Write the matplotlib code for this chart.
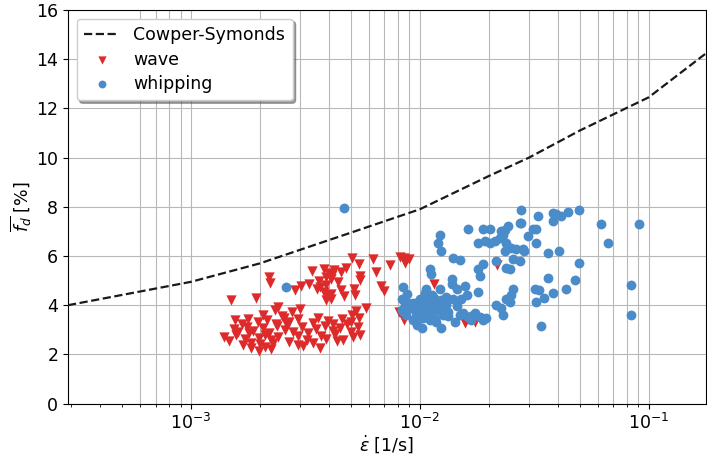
import numpy as np
import matplotlib
matplotlib.use("Agg")
import matplotlib.pyplot as plt

# Cowper-Symonds reference curve
cs_rate = [2.9e-4, 1e-3, 2e-3, 5e-3, 1e-2, 2e-2, 3e-2, 5e-2, 1e-1, 2e-1]
cs_fd = [4.0, 4.95, 5.7, 6.95, 7.9, 9.25, 10.0, 11.1, 12.45, 14.6]

# wave (red triangles)
wave_rate = [
    1.49e-3, 1.93e-3, 2.19e-3, 2.21e-3, 2.41e-3,
    1.39e-3, 1.47e-3, 1.58e-3, 1.72e-3, 1.83e-3, 1.99e-3, 2.10e-3, 2.24e-3, 2.40e-3, 2.67e-3,
    2.93e-3, 3.20e-3, 3.40e-3, 3.70e-3, 3.90e-3, 4.25e-3, 4.62e-3, 5.10e-3, 5.45e-3,
    1.54e-3, 1.61e-3, 1.75e-3, 1.86e-3, 2.07e-3, 2.19e-3, 2.37e-3, 2.58e-3, 2.80e-3,
    3.04e-3, 3.24e-3, 3.53e-3, 3.84e-3, 4.17e-3, 4.47e-3, 4.99e-3, 5.36e-3,
    1.55e-3, 1.67e-3, 1.77e-3, 1.97e-3, 2.14e-3, 2.35e-3, 2.55e-3, 2.68e-3,
    2.94e-3, 3.40e-3, 3.60e-3, 3.96e-3, 4.19e-3, 4.56e-3, 5.02e-3, 5.44e-3,
    2.06e-3, 2.32e-3, 2.49e-3, 2.75e-3, 2.99e-3, 5.03e-3, 5.28e-3, 5.82e-3,
    1.69e-3, 1.83e-3, 2.00e-3, 2.10e-3, 2.24e-3, 2.93e-3, 3.65e-3,
    1.98e-3,
    3.37e-3, 3.80e-3, 4.00e-3, 4.22e-3, 4.53e-3, 4.74e-3,
    5.06e-3, 6.24e-3, 8.2e-3, 8.5e-3, 8.95e-3,
    5.40e-3, 7.4e-3, 8.6e-3,
    6.4e-3,
    5.50e-3, 3.87e-3, 4.14e-3,
    3.62e-3, 4.07e-3, 4.38e-3, 5.5e-3,
    3.01e-3, 3.27e-3, 3.66e-3, 3.87e-3, 6.75e-3,
    2.85e-3, 3.55e-3, 3.80e-3, 4.53e-3, 5.15e-3, 7.0e-3,
    3.87e-3, 4.07e-3, 4.66e-3, 5.2e-3,
    3.87e-3, 4.07e-3,
    8.1e-3, 8.5e-3, 1.15e-2, 1.58e-2, 1.75e-2, 2.18e-2,
    1.80e-3, 2.28e-3, 2.62e-3, 3.10e-3, 4.35e-3, 4.80e-3,
]
wave_fd = [
    4.20, 4.31, 5.13, 4.89, 3.93,
    2.70, 2.55, 2.78, 2.62, 2.48, 2.66, 2.80, 2.58, 2.72, 2.52,
    2.76, 2.60, 2.45, 2.74, 2.63, 2.82, 2.57, 2.69, 2.77,
    3.05, 2.90, 3.12, 2.96, 3.08, 2.88, 3.15, 3.00, 2.92,
    3.10, 2.86, 3.04, 3.14, 2.94, 3.08, 2.90, 3.12,
    3.40, 3.25, 3.45, 3.30, 3.38, 3.22, 3.48, 3.32,
    3.42, 3.26, 3.50, 3.35, 3.24, 3.44, 3.30, 3.46,
    3.62, 3.80, 3.58, 3.72, 3.85, 3.60, 3.76, 3.88,
    2.38, 2.25, 2.42, 2.30, 2.20, 2.40, 2.28,
    2.13,
    5.40, 5.48, 5.32, 5.45, 5.35, 5.50,
    5.93, 5.88, 5.97, 5.92, 5.86,
    5.67, 5.62, 5.72,
    5.33,
    5.20, 5.15, 5.24,
    5.00, 5.05, 4.95, 5.02,
    4.80, 4.85, 4.76, 4.82, 4.80,
    4.60, 4.65, 4.55, 4.60, 4.66, 4.58,
    4.40, 4.44, 4.36, 4.42,
    4.20, 4.24,
    3.73, 3.39, 4.88, 3.26, 3.32, 5.62,
    2.85, 2.45, 3.20, 2.35, 2.55, 3.25,
]

# whipping (blue circles)
whip_rate = [
    4.66e-3, 2.59e-3,
    8.46e-3, 8.32e-3, 8.60e-3, 8.32e-3, 8.74e-3, 9.35e-3, 1.0e-2, 1.069e-2, 1.106e-2, 1.124e-2,
    1.223e-2, 1.243e-2, 1.307e-2, 1.375e-2, 1.375e-2, 1.398e-2, 1.446e-2, 1.52e-2, 1.572e-2,
    1.599e-2, 1.626e-2, 1.738e-2, 1.797e-2, 1.828e-2, 1.89e-2, 1.955e-2,
    9.04e-3, 9.51e-3, 1.0e-2, 1.052e-2, 1.106e-2, 1.163e-2, 1.202e-2, 1.264e-2, 1.329e-2,
    1.034e-2, 1.106e-2, 1.182e-2, 9.35e-3, 9.67e-3, 1.017e-2, 1.243e-2, 1.422e-2, 1.495e-2, 1.681e-2,
    1.223e-2, 1.202e-2, 1.243e-2, 1.398e-2, 1.495e-2, 1.626e-2, 1.797e-2, 1.922e-2, 2.021e-2,
    2.125e-2, 1.89e-2, 2.021e-2, 2.273e-2, 2.35e-2, 2.43e-2, 2.311e-2, 2.235e-2, 2.39e-2,
    2.35e-2, 2.512e-2, 2.641e-2, 2.733e-2, 2.733e-2, 2.555e-2, 2.471e-2, 1.89e-2, 1.828e-2,
    1.797e-2, 2.161e-2, 2.39e-2, 2.555e-2, 2.512e-2, 2.471e-2, 2.39e-2, 2.273e-2, 2.161e-2, 2.311e-2,
    2.77e-2, 2.77e-2, 2.96e-2, 3.12e-2, 3.22e-2, 3.22e-2, 2.82e-2, 2.86e-2, 3.28e-2,
    3.81e-2, 3.81e-2, 3.94e-2, 4.14e-2, 4.43e-2, 4.98e-2, 3.62e-2, 4.05e-2, 6.19e-2,
    6.62e-2, 9.1e-2, 4.95e-2, 3.62e-2, 4.74e-2, 4.36e-2, 3.81e-2, 3.50e-2, 3.22e-2,
    3.17e-2, 3.33e-2, 8.37e-2, 8.37e-2, 3.39e-2,
    8.9e-3, 9.2e-3, 9.8e-3, 1.03e-2, 1.08e-2, 1.12e-2, 1.15e-2, 1.19e-2, 1.25e-2, 1.28e-2,
    9.6e-3, 1.01e-2, 1.06e-2, 1.10e-2, 1.17e-2, 1.21e-2, 1.33e-2, 1.45e-2, 1.55e-2, 1.68e-2,
    8.8e-3, 1.05e-2, 1.13e-2, 1.30e-2,
]
whip_fd = [
    7.96, 4.76,
    4.73, 4.27, 4.00, 3.80, 3.60, 4.07, 4.27, 4.67, 5.47, 5.27,
    4.67, 4.20, 4.00, 5.07, 4.87, 4.27, 4.67, 4.27, 4.80,
    4.40, 3.53, 3.67, 4.53, 3.53, 3.40, 3.47,
    3.87, 3.80, 3.73, 3.87, 3.93, 4.07, 3.80, 3.60, 3.73,
    3.47, 3.40, 3.33, 3.40, 3.20, 3.07, 3.07, 3.33, 3.60, 3.40,
    6.87, 6.53, 6.20, 5.93, 5.84, 7.09, 6.53, 6.60, 6.53,
    6.60, 7.09, 7.09, 7.00, 7.07, 7.20, 6.87, 6.73, 6.53,
    6.20, 6.33, 6.27, 7.33, 5.80, 5.87, 5.47, 5.67, 5.20,
    5.47, 5.80, 5.53, 4.67, 4.40, 4.13, 4.27, 3.87, 4.00, 3.60,
    7.89, 7.35, 6.81, 7.08, 7.11, 6.54, 6.27, 6.20, 7.62,
    7.76, 7.42, 7.69, 7.62, 7.78, 7.89, 6.14, 6.20, 7.32,
    6.51, 7.32, 5.73, 5.12, 5.03, 4.65, 4.51, 4.31, 4.11,
    4.65, 4.62, 4.82, 3.62, 3.14,
    4.10, 3.95, 4.15, 3.95, 4.20, 3.70, 4.30, 3.90, 4.10, 3.85,
    3.55, 3.60, 3.55, 3.75, 3.45, 3.95, 3.55, 3.95, 3.70, 3.55,
    4.45, 4.50, 4.40, 4.35,
]

y_ticks = [0, 2, 4, 6, 8, 10, 12, 14, 16]

fig = plt.figure(figsize=(7.07, 4.57), dpi=100)
ax = fig.add_axes([68 / 707, 1 - 403.6 / 457, (706 - 68) / 707, (403.6 - 10) / 457])

ax.plot(cs_rate, cs_fd, linestyle="--", color="#1a1a1a", linewidth=1.6,
        label="Cowper-Symonds", zorder=3)
ax.scatter(wave_rate, wave_fd, marker="v", s=55, color="#dd2a2a",
           label="wave", zorder=4, linewidths=0)
ax.scatter(whip_rate, whip_fd, marker="o", s=50, color="#4a8cc9",
           label="whipping", zorder=4, linewidths=0)

ax.set_xscale("log")
ax.set_xlim(2.9e-4, 0.178)
ax.set_ylim(0, 16)
ax.set_yticks(y_ticks)

ax.grid(True, which="major", color="#b8b8b8", linewidth=0.8)
ax.grid(True, which="minor", axis="x", color="#b8b8b8", linewidth=0.8)
ax.set_axisbelow(True)

ax.tick_params(labelsize=12.5)
ax.set_xlabel(r"$\dot{\varepsilon}$ [1/s]", fontsize=12.5, labelpad=0)
ax.set_ylabel(r"$\overline{f_d}$ [%]", fontsize=12.5, labelpad=2)

leg = ax.legend(loc="upper left", fontsize=12.5, shadow=True, fancybox=True,
                framealpha=1.0, markerscale=0.8, borderpad=0.45,
                handlelength=2.0, labelspacing=0.35)

fig.canvas.draw()
for loc, tick in zip(ax.xaxis.get_minorticklocs(), ax.xaxis.get_minor_ticks()):
    if loc < 5.5e-4:
        tick.gridline.set_visible(False)

fig.savefig("out.png", dpi=100)
